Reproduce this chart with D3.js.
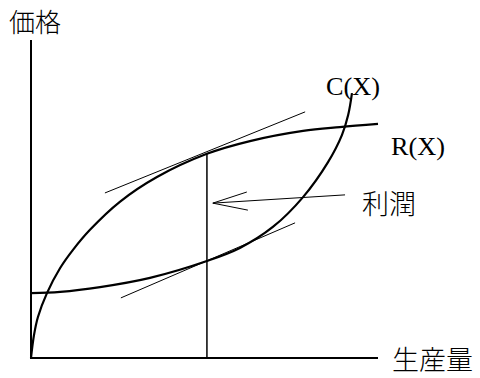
<!DOCTYPE html>
<html><head><meta charset="utf-8">
<script src="https://cdn.jsdelivr.net/npm/d3@7"></script>
<style>body{margin:0;background:#fff}svg{display:block}</style>
</head><body>
<script>
// Data (in arbitrary 0-100 units)
const revenueX = [0, 0.86, 2.0, 4.6, 8.4, 12.1, 17.0, 25.6, 36.3, 50.7, 63.1, 78.4, 89.0, 100];
const revenueY = [0, 7.2, 12.9, 20.4, 28.3, 34.0, 40.3, 49.1, 56.9, 64.2, 68.2, 71.4, 72.6, 73.6];
const costX = [0, 8.4, 19.9, 34.3, 50.7, 60.2, 69.7, 78.4, 85.6, 89.6, 91.4, 92.5];
const costY = [20.4, 20.8, 22.3, 25.2, 30.5, 34.6, 41.2, 50.6, 61.6, 70.1, 76.4, 83.3];
const tangentR = [[21.3, 51.9], [79.0, 77.4]];
const tangentC = [[25.9, 18.9], [76.1, 42.5]];
const optimumX = 50.7;
const arrowShaft = [[90.5, 51.3], [52.4, 48.7]];
const arrowWings = [[62.2, 52.2], [62.5, 46.5]];
const labels = {y: "価格", x: "生産量", profit: "利潤", cost: "C(X)", revenue: "R(X)"};

const W = 480, H = 378;
const svg = d3.select("body").append("svg").attr("width", W).attr("height", H);
const x = d3.scaleLinear().domain([0, 100]).range([31, 378]);
const y = d3.scaleLinear().domain([0, 100]).range([358, 40]);

const line = d3.line().x(d => x(d[0])).y(d => y(d[1]));
const curve = d3.line().x(d => x(d[0])).y(d => y(d[1])).curve(d3.curveCatmullRom.alpha(0.5));

// axes
svg.append("path").attr("d", line([[0, 100], [0, 0], [100, 0]]))
  .attr("fill", "none").attr("stroke", "#000").attr("stroke-width", 2);

// curves
svg.append("path").attr("d", curve(revenueX.map((v, i) => [v, revenueY[i]])))
  .attr("fill", "none").attr("stroke", "#000").attr("stroke-width", 2.2);
svg.append("path").attr("d", curve(costX.map((v, i) => [v, costY[i]])))
  .attr("fill", "none").attr("stroke", "#000").attr("stroke-width", 2.2);

// tangents
[tangentR, tangentC].forEach(t => svg.append("path").attr("d", line(t))
  .attr("fill", "none").attr("stroke", "#000").attr("stroke-width", 1));

// vertical line at optimum
const rAtOpt = revenueY[revenueX.indexOf(optimumX)];
svg.append("path").attr("d", line([[optimumX, 0], [optimumX, rAtOpt]]))
  .attr("fill", "none").attr("stroke", "#000").attr("stroke-width", 1.5);

// arrow
svg.append("path").attr("d", line(arrowShaft))
  .attr("fill", "none").attr("stroke", "#000").attr("stroke-width", 1);
arrowWings.forEach(w => svg.append("path").attr("d", line([arrowShaft[1], w]))
  .attr("fill", "none").attr("stroke", "#000").attr("stroke-width", 1));

// text
const cjk = "'Noto Sans CJK JP', sans-serif";
const serif = "'Liberation Serif', serif";
svg.append("text").attr("x", 9).attr("y", 32).attr("font-family", cjk).attr("font-weight", 300).attr("font-size", 26).text(labels.y);
svg.append("text").attr("x", 392).attr("y", 370).attr("font-family", cjk).attr("font-weight", 300).attr("font-size", 27).text(labels.x);
svg.append("text").attr("x", 362).attr("y", 214).attr("font-family", cjk).attr("font-weight", 300).attr("font-size", 27).text(labels.profit);
svg.append("text").attr("x", 326).attr("y", 95).attr("font-family", serif).attr("font-size", 26)
  .attr("textLength", 54).attr("lengthAdjust", "spacingAndGlyphs").text(labels.cost);
svg.append("text").attr("x", 391).attr("y", 155).attr("font-family", serif).attr("font-size", 26)
  .attr("textLength", 54).attr("lengthAdjust", "spacingAndGlyphs").text(labels.revenue);
</script>
</body></html>
